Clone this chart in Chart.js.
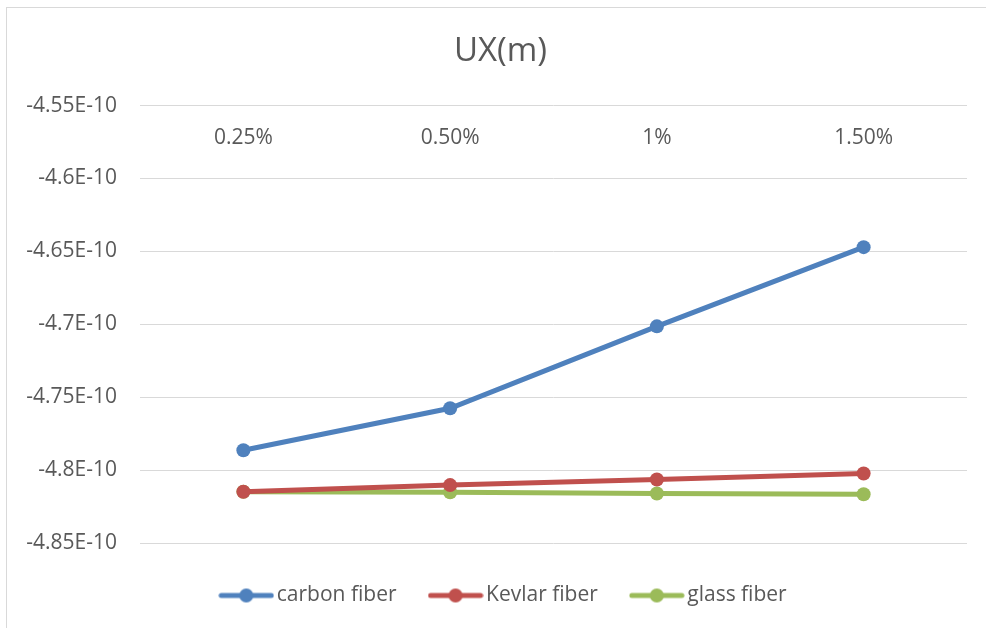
<!DOCTYPE html>
<html>
<head>
<meta charset="utf-8">
<title>UX(m)</title>
<script src="https://cdn.jsdelivr.net/npm/chart.js@4/dist/chart.umd.min.js"></script>
<style>
  body { margin: 0; background: #fff; }
  #wrap { position: relative; width: 986px; height: 628px; overflow: hidden; }
  #frame { position: absolute; left: 6px; top: 7px; width: 1100px; height: 800px; border: 1px solid #d9d9d9; }
  canvas { position: absolute; left: 0; top: 0; }
</style>
</head>
<body>
<div id="wrap">
  <div id="frame"></div>
  <canvas id="chart" width="986" height="628"></canvas>
</div>
<script>
// ---- data ----
const categories = ['0.25%', '0.50%', '1%', '1.50%'];
const carbonFiber = [-4.7864e-10, -4.7576e-10, -4.7014e-10, -4.6471e-10];
const kevlarFiber = [-4.8149e-10, -4.8103e-10, -4.8064e-10, -4.8023e-10];
const glassFiber  = [-4.8149e-10, -4.8152e-10, -4.8160e-10, -4.8166e-10];
const yTicks = [-4.85e-10, -4.8e-10, -4.75e-10, -4.7e-10, -4.65e-10, -4.6e-10, -4.55e-10];

const seriesNames = ['carbon fiber', 'Kevlar fiber', 'glass fiber'];
const seriesColors = ['#4f81bd', '#c0504d', '#9bbb59'];

const FONT = "'Open Sans', 'Noto Sans', sans-serif";
const TEXT = '#595959';

// legend marker: short line with a dot in the middle
function legendMarker(color) {
  const c = document.createElement('canvas');
  c.width = 56; c.height = 16;
  const g = c.getContext('2d');
  g.strokeStyle = color;
  g.lineWidth = 5;
  g.lineCap = 'round';
  g.beginPath();
  g.moveTo(3, 8); g.lineTo(53, 8);
  g.stroke();
  g.fillStyle = color;
  g.beginPath();
  g.arc(28, 8, 7, 0, Math.PI * 2);
  g.fill();
  return c;
}
const markers = seriesColors.map(legendMarker);

function fmtTick(v) {
  return parseFloat((v * 1e10).toFixed(2)) + 'E-10';
}

const makeSet = (i, data) => ({
  label: seriesNames[i],
  data,
  borderColor: seriesColors[i],
  backgroundColor: seriesColors[i],
  borderWidth: 5,
  pointRadius: 7,
  pointHoverRadius: 7,
  pointBorderWidth: 0,
  tension: 0
});

// nudge title and legend sideways (Excel centres them a bit right of the canvas middle)
const nudge = {
  id: 'nudge',
  afterLayout(chart) {
    const t = chart.titleBlock, l = chart.legend;
    if (t) { t.left += 17; t.right += 17; }
    if (l) { l.left += 23; l.right += 23; }
  }
};

new Chart(document.getElementById('chart'), {
  type: 'line',
  data: {
    labels: categories,
    datasets: [makeSet(0, carbonFiber), makeSet(1, kevlarFiber), makeSet(2, glassFiber)]
  },
  plugins: [nudge],
  options: {
    responsive: false,
    animation: false,
    devicePixelRatio: 1,
    layout: { padding: { left: 0, right: 19, top: 0, bottom: 12 } },
    plugins: {
      title: {
        display: true,
        text: 'UX(m)',
        color: TEXT,
        font: { family: FONT, size: 33, weight: 'normal', lineHeight: 1.2 },
        padding: { top: 32, bottom: 34 }
      },
      legend: {
        position: 'bottom',
        labels: {
          color: TEXT,
          font: { family: FONT, size: 21 },
          usePointStyle: true,
          pointStyleWidth: 40,
          padding: 39,
          generateLabels: chart => {
            const items = Chart.defaults.plugins.legend.labels.generateLabels(chart);
            items.forEach(it => { it.pointStyle = markers[it.datasetIndex]; });
            return items;
          }
        }
      },
      tooltip: { enabled: false }
    },
    scales: {
      x: {
        position: 'bottom',
        offset: true,
        grid: { display: false, drawTicks: false },
        border: { display: false },
        ticks: { display: false },
        afterFit: s => { s.height = 3; }
      },
      x2: {
        type: 'category',
        labels: categories,
        position: { y: -4.55e-10 },
        offset: true,
        grid: { display: false, drawTicks: false },
        border: { display: false },
        ticks: { color: TEXT, font: { family: FONT, size: 21 }, padding: 20, maxRotation: 0 }
      },
      y: {
        min: -4.85e-10,
        max: -4.55e-10,
        afterBuildTicks: s => { s.ticks = yTicks.map(v => ({ value: v })); },
        afterFit: s => { s.width = 140; },
        grid: { color: '#d9d9d9', lineWidth: 1, drawTicks: false },
        border: { display: false },
        ticks: {
          color: TEXT,
          font: { family: FONT, size: 21 },
          padding: 23,
          callback: v => fmtTick(v)
        }
      }
    }
  }
});
</script>
</body>
</html>
